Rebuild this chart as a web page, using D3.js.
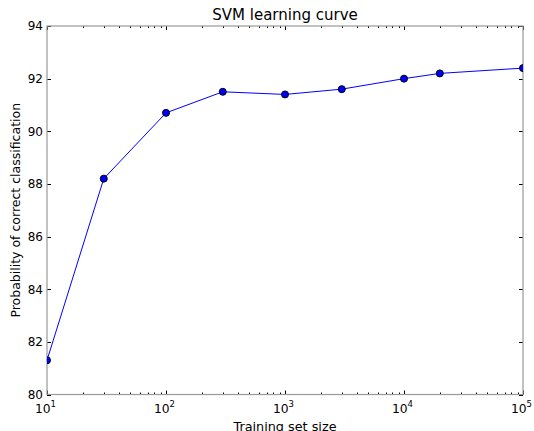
<!DOCTYPE html>
<html>
<head>
<meta charset="utf-8">
<script src="https://cdn.jsdelivr.net/npm/d3@7/dist/d3.min.js"></script>
<style>
  body { margin: 0; background: #fff; }
  svg { font-family: "DejaVu Sans", sans-serif; }
</style>
</head>
<body>
<div id="chart"></div>
<script>
// training set sizes and accuracy
const sizes = [10, 30, 100, 300, 1000, 3000, 10000, 20000, 100000];
const accuracy = [81.3, 88.2, 90.7, 91.5, 91.4, 91.6, 92.0, 92.2, 92.4];
const yTicks = [80, 82, 84, 86, 88, 90, 92, 94];
const xDecades = [1, 2, 3, 4, 5];

const width = 534, height = 431;
const margin = {top: 26, right: 11, bottom: 36.5, left: 47};
const innerW = width - margin.left - margin.right;
const innerH = height - margin.top - margin.bottom;

const svg = d3.select("#chart").append("svg")
  .attr("width", width)
  .attr("height", height);

const x = d3.scaleLog().domain([10, 100000]).range([0, innerW]);
const y = d3.scaleLinear().domain([80, 94]).range([innerH, 0]);

const g = svg.append("g")
  .attr("transform", "translate(" + margin.left + "," + margin.top + ")");

// minor + major tick positions for the log axis
const minorTicks = [];
for (let e = 1; e < 5; e++) {
  for (let m = 2; m <= 9; m++) minorTicks.push(m * Math.pow(10, e));
}
const majorTicks = xDecades.map(e => Math.pow(10, e));

const ticks = g.append("g").attr("stroke", "#000").attr("stroke-width", 1);

// bottom and top ticks, pointing inward
[[innerH, -1], [0, 1]].forEach(([y0, dir]) => {
  ticks.selectAll(null).data(minorTicks).enter().append("line")
    .attr("x1", d => Math.round(x(d)) + 0.5).attr("x2", d => Math.round(x(d)) + 0.5)
    .attr("y1", y0).attr("y2", y0 + dir * 2);
  ticks.selectAll(null).data(majorTicks).enter().append("line")
    .attr("x1", d => Math.round(x(d)) + 0.5).attr("x2", d => Math.round(x(d)) + 0.5)
    .attr("y1", y0).attr("y2", y0 + dir * 4);
});

// left and right ticks
[[0, 1], [innerW, -1]].forEach(([x0, dir]) => {
  ticks.selectAll(null).data(yTicks).enter().append("line")
    .attr("x1", x0).attr("x2", x0 + dir * 4)
    .attr("y1", d => Math.round(y(d)) + 0.5).attr("y2", d => Math.round(y(d)) + 0.5);
});

// frame
g.append("rect")
  .attr("x", 0).attr("y", 0)
  .attr("width", innerW).attr("height", innerH)
  .attr("fill", "none")
  .attr("stroke", "#999")
  .attr("stroke-width", 1.2);

// y tick labels
g.append("g").selectAll("text").data(yTicks).enter().append("text")
  .attr("x", -4)
  .attr("y", d => y(d))
  .attr("dy", "0.36em")
  .attr("text-anchor", "end")
  .attr("font-size", 12)
  .attr("fill", "#000")
  .text(d => d);

// x tick labels, 10^n
const xl = g.append("g").selectAll("text").data(xDecades).enter().append("text")
  .attr("x", d => x(Math.pow(10, d)) - 1.5)
  .attr("y", innerH + 18.5)
  .attr("text-anchor", "middle")
  .attr("font-size", 12.3)
  .attr("fill", "#000");
xl.append("tspan").text("10");
xl.append("tspan").attr("font-size", 8.5).attr("dy", -6).text(d => d);

// line
const line = d3.line()
  .x((d, i) => x(sizes[i]))
  .y(d => y(d));

g.append("path")
  .datum(accuracy)
  .attr("d", line)
  .attr("fill", "none")
  .attr("stroke", "#0000ff")
  .attr("stroke-width", 1);

// markers (clipped to the axes like matplotlib)
svg.append("clipPath").attr("id", "clip")
  .append("rect").attr("width", innerW).attr("height", innerH);

g.append("g").attr("clip-path", "url(#clip)")
  .selectAll("circle").data(accuracy).enter().append("circle")
  .attr("cx", (d, i) => x(sizes[i]))
  .attr("cy", d => y(d))
  .attr("r", 3.5)
  .attr("fill", "#0000ff")
  .attr("stroke", "#000")
  .attr("stroke-width", 1);

// title and axis labels
svg.append("text")
  .attr("x", margin.left + innerW / 2)
  .attr("y", 19.5)
  .attr("text-anchor", "middle")
  .attr("font-size", 15)
  .text("SVM learning curve");

svg.append("text")
  .attr("x", margin.left + innerW / 2)
  .attr("y", 431)
  .attr("text-anchor", "middle")
  .attr("font-size", 12.8)
  .text("Training set size");

svg.append("text")
  .attr("transform", "translate(19.5," + (margin.top + innerH / 2) + ") rotate(-90)")
  .attr("text-anchor", "middle")
  .attr("font-size", 12.5)
  .text("Probability of correct classification");
</script>
</body>
</html>
